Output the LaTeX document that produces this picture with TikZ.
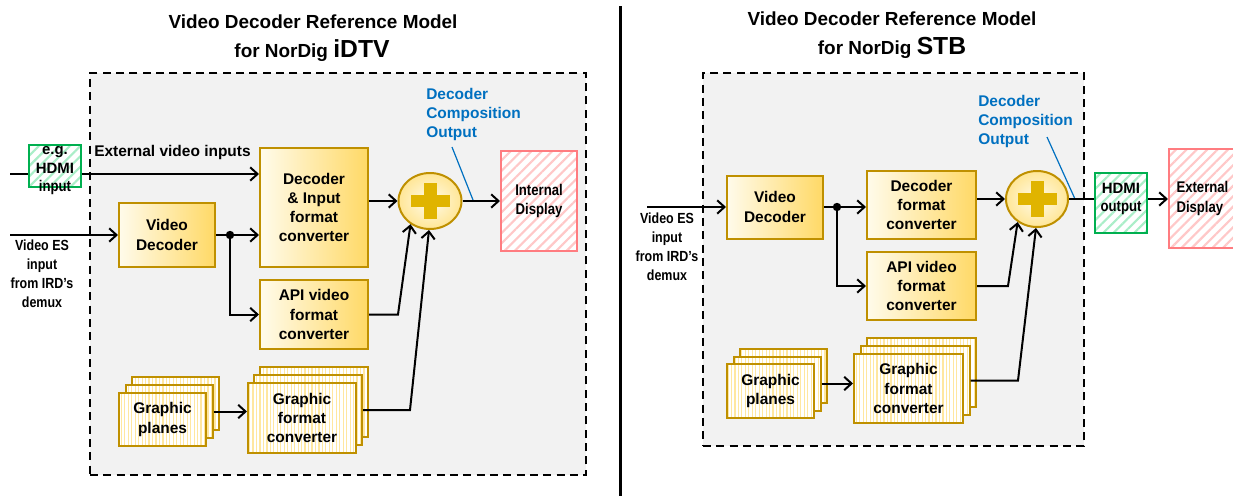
\documentclass[tikz,border=0pt]{standalone}
\usepackage{fontspec}
\setmainfont{Liberation Sans}
\newfontfamily\narrowfont{Liberation Sans}[FakeStretch=0.85]
\usetikzlibrary{arrows.meta,patterns.meta,shapes.geometric}

\definecolor{gold}{RGB}{191,144,0}
\definecolor{goldfill}{RGB}{255,217,102}
\definecolor{lightfill}{RGB}{255,251,235}
\definecolor{stripe}{RGB}{255,231,160}
\definecolor{panelgray}{RGB}{242,242,242}
\definecolor{bluelbl}{RGB}{0,112,192}
\definecolor{greenb}{RGB}{0,176,80}
\definecolor{greenh}{RGB}{170,238,200}
\definecolor{pinkb}{RGB}{255,124,128}
\definecolor{pinkh}{RGB}{255,200,200}
\definecolor{plusc}{RGB}{224,180,0}
\definecolor{plusout}{RGB}{255,230,150}

\tikzset{
  sz/.style 2 args={minimum width=#1*0.75pt, minimum height=#2*0.75pt},
  lbl/.style={font=\bfseries\fontsize{11.6}{14.3}\selectfont, align=center, text=black, inner sep=0pt},
  esl/.style={font=\narrowfont\bfseries\fontsize{11}{14.2}\selectfont, align=center, inner sep=0pt},
  ttl/.style={font=\bfseries\fontsize{14.2}{17}\selectfont, anchor=base, inner sep=0pt},
  bluel/.style={font=\bfseries\fontsize{11.6}{14.3}\selectfont, text=bluelbl, align=left, inner sep=0pt},
  blueline/.style={draw=bluelbl, line width=0.9pt},
  ybox/.style={lbl, draw=gold, line width=1.5pt, left color=lightfill, right color=goldfill},
  sbox/.style={lbl, draw=gold, line width=1.5pt, preaction={fill=white},
    pattern={Lines[angle=90,distance=2.6pt,line width=0.9pt]}, pattern color=stripe},
  gbox/.style={draw=greenb, line width=1.5pt, preaction={fill=white},
    pattern={Lines[angle=45,distance=5.5pt,line width=1.6pt]}, pattern color=greenh, inner sep=0pt},
  pbox/.style={draw=pinkb, line width=1.5pt, preaction={fill=white},
    pattern={Lines[angle=45,distance=5.5pt,line width=1.6pt]}, pattern color=pinkh, inner sep=0pt,
    font=\narrowfont\bfseries\fontsize{11.6}{14.3}\selectfont, align=center},
  plusnode/.style={ellipse, draw=gold, line width=1.5pt, inner color=lightfill, outer color=plusout, inner sep=0pt},
  dashpanel/.style={draw=black, line width=1.5pt, dash pattern=on 6pt off 4pt, fill=panelgray, inner sep=0pt},
  conn/.style={draw=black, line width=1.5pt},
  arr/.style={conn, -{Straight Barb[length=5.5pt,width=10pt]}},
}

\begin{document}
\begin{tikzpicture}[x=0.75pt,y=-0.75pt]
\path[use as bounding box] (0,0) rectangle (1233,496);
\clip (0,0) rectangle (1233,496);
\fill[white] (0,0) rectangle (1233,496);

% ---------- panels and divider ----------
\node[dashpanel, sz={496}{402}] (panelA) at (338,274) {};
\node[dashpanel, sz={381}{373}] (panelB) at (893.5,259.5) {};
\coordinate (divT) at (620,6);
\coordinate (divB) at (620,496);
\draw[line width=2.25pt] (divT) -- (divB);

% ---------- titles ----------
\node[ttl] (tA1) at (313,28) {Video Decoder Reference Model};
\node[ttl] (tA2) at (312,57) {for NorDig {\fontsize{18.5}{20}\selectfont iDTV}};
\node[ttl] (tB1) at (892,26) {Video Decoder Reference Model};
\node[ttl] (tB2) at (892,55) {for NorDig {\fontsize{18.5}{20}\selectfont STB}};

% =================== LEFT (iDTV) ===================
\node[gbox, sz={52}{42}] (hdmiA) at (55,166) {};
\node[lbl, font=\bfseries\fontsize{11.2}{13.9}\selectfont] (hdmiAt) at (55,171) {e.g.\\HDMI\\{\narrowfont\fontsize{11.6}{13.9}\selectfont input}};
\node[lbl, anchor=west] (extA) at (94,152) {External video inputs};

\node[ybox, sz={96}{64}] (vdecA) at (167,235) {Video\\Decoder};
\node[ybox, sz={108}{119}] (decA) at (314,207.5) {Decoder\\\& Input\\format\\converter};
\node[ybox, sz={108}{69}] (apiA) at (314,314.5) {API video\\format\\converter};
\node[plusnode, sz={63}{56}] (pA) at (430,201) {};
\fill[plusc] ([shift={(-19.5,-6)}]pA.center) rectangle ++(39,12);
\fill[plusc] ([shift={(-6.5,-18)}]pA.center) rectangle ++(13,36);
\node[pbox, sz={76}{100}] (dispA) at (539,201) {Internal\\Display};

\node[sbox, sz={87}{53}] (gpA3) at (175.5,403.5) {};
\node[sbox, sz={87}{53}] (gpA2) at (169,411.5) {};
\node[sbox, sz={87}{53}] (gpA1) at (162.5,419.5) {Graphic\\planes};
\node[sbox, sz={108}{70}] (gcA3) at (314,402) {};
\node[sbox, sz={108}{70}] (gcA2) at (308,410) {};
\node[sbox, sz={108}{70}] (gcA1) at (302,418) {Graphic\\format\\converter};

\node[esl, anchor=north] (esA) at (42,240) {Video ES\\input\\from IRD’s\\demux};
\node[bluel, anchor=north west] (dcoA) at (426,88) {Decoder\\Composition\\Output};
\coordinate (dcoAs) at (452,147);
\coordinate (dcoAe) at (473,200);
\draw[blueline] (dcoAs) -- (dcoAe);

\coordinate (inA) at (10,174);
\draw[conn] (inA) -- (inA -| hdmiA.west);
\draw[arr] (inA -| hdmiA.east) -- (inA -| decA.west);
\coordinate (esinA) at (10,235);
\draw[arr] (esinA) -- (vdecA.west);
\coordinate (jA) at (230,235);
\draw[conn] (vdecA.east) -- (jA);
\fill (jA) circle[radius=4.2];
\draw[arr] (jA) -- (jA -| decA.west);
\draw[arr] (jA) |- (apiA.west);
\draw[arr] (decA.east |- pA.west) -- (pA.west);
\draw[arr] (pA.east) -- (dispA.west);
\coordinate (apiAk) at (398,314.5);
\draw[arr] (apiA.east) -- (apiAk) -- (pA.230);
\coordinate (gcAk) at (410,410);
\draw[arr] (gcA2.east) -- (gcA2.east -| gcAk) -- (pA.268);
\draw[arr] (gpA2.east) -- (gpA2.east -| gcA1.west);

% =================== RIGHT (STB) ===================
\node[ybox, sz={96}{63}] (vdecB) at (775,207) {Video\\Decoder};
\node[ybox, sz={109}{68}] (decB) at (921.5,205) {Decoder\\format\\converter};
\node[ybox, sz={109}{68}] (apiB) at (921.5,286) {API video\\format\\converter};
\node[plusnode, sz={62}{56}] (pB) at (1037,199) {};
\fill[plusc] ([shift={(-19.5,-6)}]pB.center) rectangle ++(39,12);
\fill[plusc] ([shift={(-6.5,-18)}]pB.center) rectangle ++(13,36);
\node[gbox, sz={52}{60}] (hdmiB) at (1121,203) {};
\node[lbl, font=\bfseries\fontsize{11.2}{13.9}\selectfont] (hdmiBt) at (1121,199) {HDMI\\{\narrowfont\fontsize{11.6}{13.9}\selectfont output}};
\node[pbox, sz={81}{99}, text width=49.5pt, align=left] (dispB) at (1209.5,198.5) {External\\Display};

\node[sbox, sz={87}{54}] (gpB3) at (783.5,376) {};
\node[sbox, sz={87}{54}] (gpB2) at (777,383.5) {};
\node[sbox, sz={87}{54}] (gpB1) at (770.5,391) {Graphic\\planes};
\node[sbox, sz={109}{69}] (gcB3) at (921.5,372.5) {};
\node[sbox, sz={109}{69}] (gcB2) at (915,380.5) {};
\node[sbox, sz={109}{69}] (gcB1) at (908.5,388.5) {Graphic\\format\\converter};

\node[esl, anchor=north] (esB) at (667,213) {Video ES\\input\\from IRD’s\\demux};
\node[bluel, anchor=north west] (dcoB) at (978,95) {Decoder\\Composition\\Output};
\coordinate (dcoBs) at (1047,137);
\coordinate (dcoBe) at (1075,199);
\draw[blueline] (dcoBs) -- (dcoBe);

\coordinate (esinB) at (647,207);
\draw[arr] (esinB) -- (vdecB.west);
\coordinate (jB) at (837,207);
\draw[conn] (vdecB.east) -- (jB);
\fill (jB) circle[radius=4.2];
\draw[arr] (jB) -- (jB -| decB.west);
\draw[arr] (jB) |- (apiB.west);
\draw[arr] (decB.east |- pB.west) -- (pB.west);
\draw[conn] (pB.east) -- (pB.east -| hdmiB.west);
\draw[arr] (hdmiB.east |- pB.east) -- (dispB.west |- pB.east);
\coordinate (apiBk) at (1008,286);
\draw[arr] (apiB.east) -- (apiBk) -- (pB.230);
\coordinate (gcBk) at (1018,380.5);
\draw[arr] (gcB2.east) -- (gcB2.east -| gcBk) -- (pB.268);
\draw[arr] (gpB2.east) -- (gpB2.east -| gcB1.west);
\end{tikzpicture}
\end{document}
